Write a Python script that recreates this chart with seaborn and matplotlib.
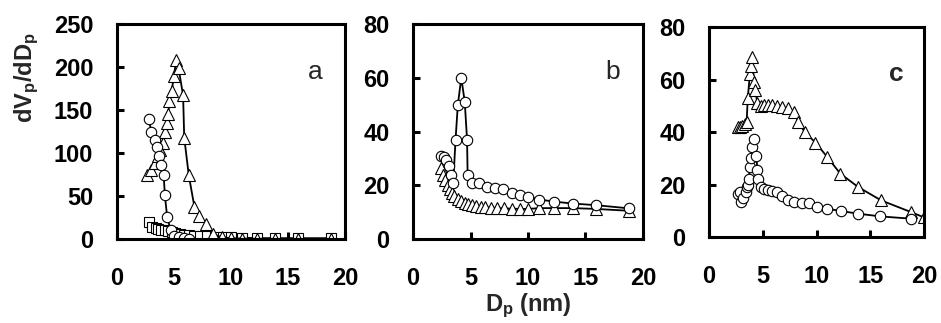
import matplotlib
matplotlib.use("Agg")
import matplotlib.pyplot as plt
import seaborn as sns

sns.set_style("ticks")
plt.rcParams['font.family'] = ['Liberation Sans', 'DejaVu Sans']
plt.rcParams['mathtext.fontset'] = 'custom'
plt.rcParams['mathtext.rm'] = 'Liberation Sans:bold'
plt.rcParams['mathtext.it'] = 'Liberation Sans:bold'
plt.rcParams['mathtext.bf'] = 'Liberation Sans:bold'

# panel a
a_circ_x = [2.8, 3.0, 3.3, 3.5, 3.7, 3.9, 4.1, 4.2, 4.4, 4.7, 5.0, 5.4, 5.9, 6.3]
a_circ_y = [140, 125, 115, 107, 97, 86, 74, 51, 26, 10, 4, 2, 1, 0.5]
a_tri_x = [2.6, 3.0, 3.3, 3.6, 3.8, 4.0, 4.2, 4.4, 4.5, 4.6, 4.8, 5.0, 5.2, 5.4,
           5.8, 5.9, 6.3, 6.8, 7.2, 7.8, 8.4, 9.2, 10.0, 11.0, 12.3, 13.9, 15.9, 18.8]
a_tri_y = [74, 80, 88, 96, 103, 112, 125, 135, 145, 160, 172, 190, 208, 199,
           167, 118, 74, 37, 27, 17, 6, 2, 1, 0.5, 0.3, 0.2, 0.1, 0.1]
a_sq_x = [2.8, 3.1, 3.4, 3.6, 3.9, 4.2, 4.5, 4.8, 5.1, 5.5, 5.9, 6.3, 6.8, 7.3,
          7.9, 8.6, 9.3, 10.0, 11.0, 12.3, 13.9, 15.9, 18.8]
a_sq_y = [20, 14, 13, 12, 11, 10, 9, 8, 7, 6, 5, 4.5, 4, 3.5,
          3, 2.5, 2, 2, 1.5, 1, 1, 1, 1]

# panel b
b_circ_x = [2.4, 2.7, 2.9, 3.1, 3.3, 3.5, 3.7, 3.9, 4.2, 4.5, 4.7, 4.75, 5.1,
            5.7, 6.4, 7.1, 7.8, 8.6, 9.3, 10.0, 11.0, 12.3, 13.9, 15.9, 18.8]
b_circ_y = [31, 30.5, 29.5, 27, 24, 21, 37, 50, 60, 51, 37, 24, 21,
            20.7, 19.5, 18.9, 18.5, 17, 16.5, 15.7, 14.7, 13.9, 13.2, 12.6, 11.4]
b_tri_x = [2.4, 2.6, 2.8, 3.0, 3.2, 3.4, 3.6, 3.9, 4.2, 4.5, 4.8, 5.1, 5.5,
           5.9, 6.3, 6.8, 7.3, 7.9, 8.6, 9.3, 10.0, 11.0, 12.3, 13.9, 15.9, 18.8]
b_tri_y = [26.5, 24, 22, 20, 18.5, 17, 16, 15, 14, 13.5, 13, 12.5, 12.2,
           12, 11.8, 11.6, 11.5, 11.4, 11.3, 11.2, 11.2, 11.5, 11.5, 11.5, 11.2, 10.5]

# panel c
c_circ_x = [2.7, 2.9, 3.0, 3.2, 3.4, 3.5, 3.6, 3.7, 3.8, 3.9, 4.0, 4.2, 4.4,
            4.5, 4.6, 4.8, 5.1, 5.5, 5.9, 6.3, 6.8, 7.3, 7.9, 8.6, 9.3, 10.0,
            11.0, 12.3, 13.9, 15.9, 18.8]
c_circ_y = [16.5, 17, 13.3, 15, 17, 19, 20, 22, 26.7, 30, 34.3, 37.5, 31,
            25.4, 22, 19, 18.5, 18, 17.5, 17, 15.5, 14, 13.3, 13, 12.8, 11.4,
            10.8, 9.9, 8.9, 7.9, 7.0]
c_tri_x = [2.7, 2.9, 3.1, 3.3, 3.5, 3.6, 3.8, 3.9, 4.0, 4.2, 4.3, 4.5, 4.8,
           5.1, 5.5, 5.9, 6.3, 6.8, 7.3, 7.9, 8.3, 8.9, 9.9, 11.0, 12.2, 13.9,
           16.0, 18.8, 20.0]
c_tri_y = [42, 42, 42.5, 43, 44, 53, 62, 65, 68.5, 59, 56, 51, 50,
           50.5, 50.5, 50.5, 50, 49.5, 49, 47.5, 44, 40, 36, 30.5, 24.2, 19,
           14, 9.5, 7.5]

panel_labels = ['a', 'b', 'c']
x_ticks = [0, 5, 10, 15, 20]

fig = plt.figure(figsize=(9.41, 3.23), dpi=100)
ax_a = fig.add_axes([0.1243, 0.260, 0.2423, 0.6656])
ax_b = fig.add_axes([0.4389, 0.260, 0.2444, 0.6656])
ax_c = fig.add_axes([0.7535, 0.266, 0.2285, 0.6500])


def draw(ax, x, y, marker, ms):
    sns.lineplot(x=x, y=y, ax=ax, sort=False, estimator=None, color='black',
                 linewidth=1.3, marker=marker, markersize=ms,
                 markerfacecolor='white', markeredgecolor='black',
                 markeredgewidth=0.8)


draw(ax_a, a_sq_x, a_sq_y, 's', 6.5)
draw(ax_a, a_tri_x, a_tri_y, '^', 8)
draw(ax_a, a_circ_x, a_circ_y, 'o', 7.5)

draw(ax_b, b_tri_x, b_tri_y, '^', 8)
draw(ax_b, b_circ_x, b_circ_y, 'o', 7.5)

draw(ax_c, c_tri_x, c_tri_y, '^', 8)
draw(ax_c, c_circ_x, c_circ_y, 'o', 7.5)

ylims = [250, 80, 80]
ysteps = [50, 20, 20]
for ax, top, step, lab in zip([ax_a, ax_b, ax_c], ylims, ysteps, panel_labels):
    ax.set_xlim(0, 20)
    ax.set_ylim(0, top)
    ax.set_xticks(x_ticks)
    ax.set_yticks(list(range(0, top + 1, step)))
    for sp in ax.spines.values():
        sp.set_linewidth(2.2)
        sp.set_color('black')
    ax.tick_params(direction='in', length=5, width=2.2, colors='black',
                   labelsize=17)
    ax.tick_params(axis='x', pad=20)
    ax.tick_params(axis='y', pad=17)
    for t in ax.get_xticklabels() + ax.get_yticklabels():
        t.set_fontweight('bold')
    ax.set_xlabel('')
    ax.set_ylabel('')
    ax.text(17.4, top * 0.775, lab, fontsize=19, ha='center', va='center',
            fontweight='bold' if lab == 'c' else 'normal')

fig.text(0.028, 0.76, r'dV$_\mathregular{p}$/dD$_\mathregular{p}$',
         rotation=90, fontsize=17, fontweight='bold', ha='center', va='center')
fig.text(0.561, 0.036, r'D$_\mathregular{p}$ (nm)', fontsize=17,
         fontweight='bold', ha='center', va='baseline')

fig.savefig('out.png', dpi=100)
